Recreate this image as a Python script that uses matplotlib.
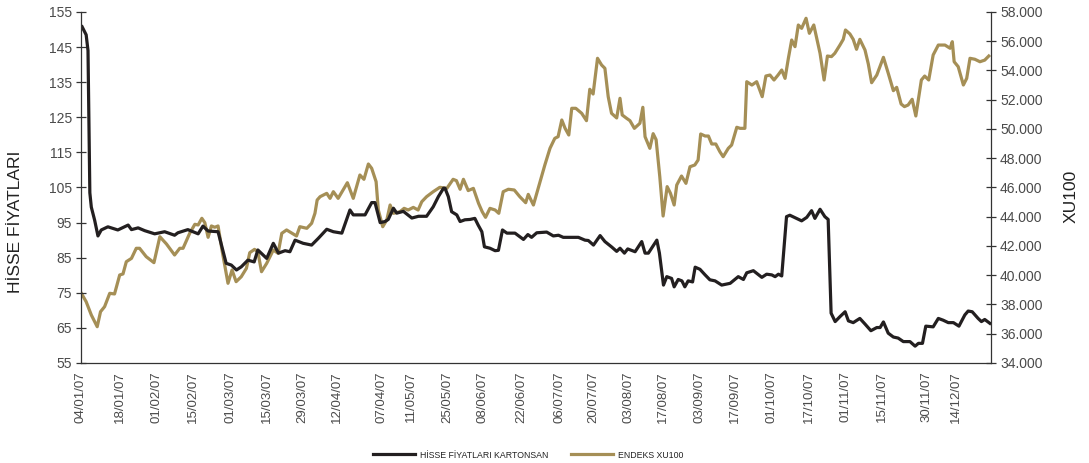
import matplotlib
matplotlib.use("Agg")
import matplotlib.pyplot as plt
from matplotlib.ticker import FuncFormatter, FixedLocator

plt.rcParams['font.family'] = ['Liberation Sans', 'DejaVu Sans']

# ---- data (x = trading-day index) ----
stock_x = [0.3, 1.4, 1.9, 2.4, 2.8, 3.7, 4.6, 5.5, 7.3, 10.0, 12.8, 13.7, 15.5, 17.3, 20.0,
           22.7, 25.4, 26.3, 29.0, 31.8, 33.1, 34.5, 37.2, 39.4, 40.8, 42.2, 43.5, 45.3, 47.0,
           48.0, 50.4, 52.2, 53.6, 55.4, 56.7, 58.1, 60.3, 62.6, 64.4, 66.7, 68.5, 70.8, 73.0,
           73.9, 77.1, 78.9, 79.8, 81.2, 82.5, 83.4, 84.8, 85.7, 87.5, 89.8, 91.6, 93.8, 95.6,
           97.0, 98.4, 98.8, 99.7, 100.6, 102.0, 102.9, 104.2, 105.6, 106.9, 107.8, 108.8,
           109.5, 111.0, 112.4, 113.3, 114.4, 115.6, 117.8, 120.1, 121.3, 122.3, 123.7, 126.4,
           128.2, 129.6, 130.9, 135.0, 136.8, 137.7, 139.1, 140.9, 142.2, 144.1, 145.4, 146.3,
           147.5, 148.4, 150.4, 152.2, 153.1, 154.0, 156.3, 157.0, 158.1, 159.0, 160.3, 161.0,
           162.1, 163.1, 163.9, 164.8, 166.0, 166.7, 168.0, 169.4, 170.7, 172.1, 173.9, 176.2,
           178.4, 179.8, 180.7, 182.5, 184.8, 186.1, 187.5, 188.4, 189.3, 190.2, 191.5, 192.4,
           195.6, 197.0, 198.3, 199.2, 200.6, 201.9, 202.8, 203.6, 204.7, 206.0, 207.4, 208.3,
           209.6, 211.4, 212.8, 214.4, 216.0, 216.9, 217.8, 219.1, 220.5, 221.8, 223.2, 225.0,
           226.4, 227.3, 228.4, 229.3, 231.3, 232.7, 234.0, 235.4, 236.8, 238.3, 239.9, 240.8,
           241.9, 243.5, 244.4, 245.3, 246.7]
stock_price = [150.8, 148.5, 144.0, 103.5, 99.4, 95.7, 91.2, 92.9, 93.8, 92.9, 94.3, 93.0, 93.5,
               92.7, 91.8, 92.4, 91.4, 92.1, 93.0, 91.8, 94.0, 92.6, 92.4, 83.4, 82.9, 81.5, 82.4,
               84.3, 83.8, 87.2, 84.8, 89.1, 86.3, 87.0, 86.7, 90.0, 89.1, 88.6, 90.5, 93.1, 92.4,
               92.0, 98.6, 97.2, 97.2, 100.7, 100.7, 95.0, 95.3, 95.9, 99.1, 97.7, 98.2, 96.3,
               96.8, 96.8, 99.5, 102.4, 104.8, 104.8, 102.4, 98.1, 97.2, 95.3, 95.8, 95.9, 96.2,
               94.3, 92.4, 88.1, 87.7, 87.0, 87.1, 92.9, 92.0, 92.0, 90.2, 91.6, 90.8, 92.1, 92.3,
               91.2, 91.4, 90.8, 90.8, 90.0, 89.9, 88.6, 91.3, 89.6, 88.0, 86.8, 87.7, 86.3, 87.5,
               86.7, 89.6, 86.3, 86.3, 90.0, 86.3, 77.2, 79.6, 79.1, 76.7, 78.8, 78.4, 76.7, 78.4,
               78.1, 82.3, 81.7, 80.1, 78.7, 78.4, 77.2, 77.7, 79.6, 78.8, 80.7, 81.3, 79.4, 80.3,
               80.1, 79.6, 80.3, 79.8, 96.7, 97.1, 95.5, 96.5, 98.4, 96.2, 98.8, 96.7, 95.9, 69.2,
               66.8, 68.2, 69.6, 67.0, 66.5, 67.7, 66.1, 64.2, 65.1, 65.1, 66.7, 63.5, 62.4, 62.1,
               61.1, 61.1, 59.8, 60.6, 60.6, 65.5, 65.3, 67.7, 67.2, 66.5, 66.5, 65.5, 68.7, 69.8,
               69.6, 67.7, 66.8, 67.4, 66.3]

index_x = [0.1, 1.4, 2.8, 4.4, 5.3, 6.4, 7.8, 9.1, 10.5, 11.4, 12.3, 13.7, 15.0, 15.9, 17.7,
           19.8, 21.4, 23.2, 25.4, 26.8, 27.7, 29.5, 30.9, 31.8, 32.8, 33.6, 34.5, 35.4, 36.3,
           37.2, 38.3, 39.9, 41.0, 42.1, 43.5, 44.9, 45.8, 47.1, 48.0, 49.0, 50.4, 52.2, 53.5,
           54.5, 55.8, 58.5, 59.4, 61.3, 62.6, 63.5, 64.1, 64.9, 66.7, 67.6, 68.5, 69.8, 72.3,
           73.9, 75.7, 76.8, 78.0, 78.9, 80.1, 80.7, 81.9, 83.0, 83.9, 84.8, 86.6, 87.7, 88.8,
           90.2, 91.5, 92.5, 93.8, 95.6, 97.4, 99.3, 101.0, 101.9, 102.9, 103.8, 105.1, 106.5,
           107.9, 108.9, 109.8, 111.0, 112.4, 113.4, 114.6, 116.0, 117.6, 119.1, 120.7, 121.4,
           122.8, 124.1, 125.9, 127.3, 128.6, 129.5, 130.5, 131.4, 132.4, 133.2, 134.3, 135.9,
           137.2, 138.1, 139.0, 140.2, 141.3, 142.2, 143.1, 144.0, 145.4, 146.3, 146.9, 148.1,
           149.0, 150.2, 151.7, 152.5, 153.1, 154.4, 155.3, 156.1, 157.1, 158.0, 159.1, 160.0,
           161.0, 161.7, 163.0, 164.2, 165.3, 166.6, 167.5, 168.2, 169.4, 170.3, 171.2, 172.3,
           173.4, 174.3, 175.7, 176.6, 178.0, 178.9, 180.2, 180.7, 182.1, 183.4, 184.9, 185.9,
           187.0, 188.1, 189.2, 190.2, 191.1, 192.0, 192.9, 193.8, 194.7, 195.6, 196.8, 197.7,
           198.9, 200.6, 201.7, 202.6, 203.7, 204.6, 206.0, 206.9, 207.5, 208.7, 209.6, 210.5,
           211.4, 212.8, 213.7, 214.6, 216.0, 217.8, 219.1, 220.5, 221.4, 222.6, 223.5, 224.5,
           225.6, 226.6, 228.1, 229.0, 230.1, 231.3, 232.7, 234.5, 235.9, 236.5, 237.0, 238.1,
           239.5, 240.4, 241.3, 242.6, 244.0, 245.3, 246.4]
index_xu100 = [38765, 38191, 37282, 36482, 37508, 37850, 38765, 38720, 40017, 40090, 40927, 41155,
               41843, 41843, 41270, 40860, 42636, 42137, 41385, 41843, 41843, 42868, 43484, 43438,
               43894, 43597, 42595, 43370, 43280, 43370, 41680, 39450, 40359, 39560, 39900, 40475,
               41543, 41770, 41610, 40243, 40815, 41727, 41500, 42868, 43097, 42685, 43320, 43210,
               43553, 44235, 45145, 45372, 45600, 45258, 45714, 45258, 46329, 45258, 46855, 46560,
               47607, 47310, 46397, 44462, 43320, 43780, 44803, 44235, 44348, 44575, 44462, 44640,
               44462, 45030, 45372, 45714, 46013, 45940, 46560, 46470, 45880, 46560, 45790, 45940,
               44920, 44345, 43960, 44575, 44462, 44235, 45714, 45880, 45830, 45372, 44960, 45530,
               44803, 45940, 47538, 48680, 49360, 49475, 50616, 50045, 49590, 51415, 51415, 51074,
               50570, 52715, 52393, 54834, 54376, 54150, 52210, 51074, 50755, 52100, 50960, 50730,
               50570, 50045, 50390, 51484, 49474, 48680, 49680, 49270, 46740, 44050, 46060, 45600,
               44803, 46170, 46786, 46285, 47420, 47538, 47880, 49658, 49520, 49520, 48975, 48975,
               48450, 48106, 48680, 48905, 50117, 50045, 50045, 53234, 53006, 53234, 52210, 53624,
               53690, 53350, 53690, 54034, 53462, 54834, 56085, 55630, 57111, 56883, 57570, 56544,
               57111, 55176, 53350, 54990, 54950, 55176, 55740, 56130, 56770, 56500, 56130, 55450,
               56130, 55400, 54445, 53166, 53690, 54900, 53820, 52620, 52850, 51710, 51530, 51640,
               52030, 50890, 53350, 53620, 53350, 55060, 55740, 55740, 55520, 55970, 54600, 54260,
               53010, 53460, 54834, 54770, 54600, 54710, 54990]

tick_pos = [0, 10.5, 20.5, 30.5, 40.5, 50.5, 60, 69.5, 81.5, 89.5, 99.5, 109, 119.5, 130, 139,
            148.5, 158, 168, 177.5, 187.5, 197.5, 207.5, 217.5, 229.5, 237.5]
tick_labels = ["04/01/07", "18/01/07", "01/02/07", "15/02/07", "01/03/07", "15/03/07",
               "29/03/07", "12/04/07", "07/04/07", "11/05/07", "25/05/07", "08/06/07",
               "22/06/07", "06/07/07", "20/07/07", "03/08/07", "17/08/07", "03/09/07",
               "17/09/07", "01/10/07", "17/10/07", "01/11/07", "15/11/07", "30/11/07", "14/12/07"]

left_ticks = list(range(55, 156, 10))
right_ticks = list(range(34000, 58001, 2000))

BLACK = '#231f20'
GOLD = '#a58f56'
AXC = '#333333'
TXT = '#4a4a4a'

fig = plt.figure(figsize=(10.89, 4.63), dpi=100)
ax = fig.add_axes([81/1089, 1 - 363/463, (991 - 81)/1089, (363 - 12)/463])
ax2 = ax.twinx()

l2, = ax2.plot(index_x, index_xu100, color=GOLD, lw=2.3, solid_joinstyle='round',
               label='ENDEKS XU100')
l1, = ax.plot(stock_x, stock_price, color=BLACK, lw=2.3, solid_joinstyle='round',
              label='HİSSE FİYATLARI KARTONSAN')
ax.set_zorder(ax2.get_zorder() + 1)
ax.patch.set_visible(False)

ax.set_xlim(0, 247)
ax.set_ylim(55, 155)
ax2.set_ylim(34000, 58000)

ax.yaxis.set_major_locator(FixedLocator(left_ticks))
ax2.yaxis.set_major_locator(FixedLocator(right_ticks))
ax2.yaxis.set_major_formatter(FuncFormatter(lambda v, p: f"{int(v):,}".replace(',', '.')))

ax.set_xticks(tick_pos)
ax.set_xticklabels(tick_labels, rotation=90, fontsize=9.5, color=TXT)
ax.tick_params(axis='x', length=0, pad=6)
ax.tick_params(axis='y', direction='inout', length=7, width=0.9, color=AXC,
               labelsize=10, labelcolor=TXT, pad=3)
ax2.tick_params(axis='y', direction='inout', length=7, width=0.9, color=AXC,
                labelsize=10, labelcolor=TXT, pad=3)

for a in (ax, ax2):
    a.spines['top'].set_visible(False)
    for s in ('left', 'right', 'bottom'):
        a.spines[s].set_color(AXC)
        a.spines[s].set_linewidth(0.9)
ax.spines['right'].set_visible(False)
ax2.spines['left'].set_visible(False)
ax2.spines['bottom'].set_visible(False)

fig.text(16/1089, 1 - 222/463, 'HİSSE FİYATLARI', rotation=90, ha='center', va='center',
         fontsize=12.5, color='#222222')
fig.text(1071/1089, 1 - 196/463, 'XU100', rotation=90, ha='center', va='center',
         fontsize=12.5, color='#222222')

fig.legend(handles=[l1, l2], loc='center', bbox_to_anchor=(528/1089, 1 - 455/463), ncol=2,
           frameon=False, fontsize=6.3, handlelength=4.8, handletextpad=0.6,
           columnspacing=2.6, labelcolor='#222222')

fig.savefig('out.png', dpi=100)
